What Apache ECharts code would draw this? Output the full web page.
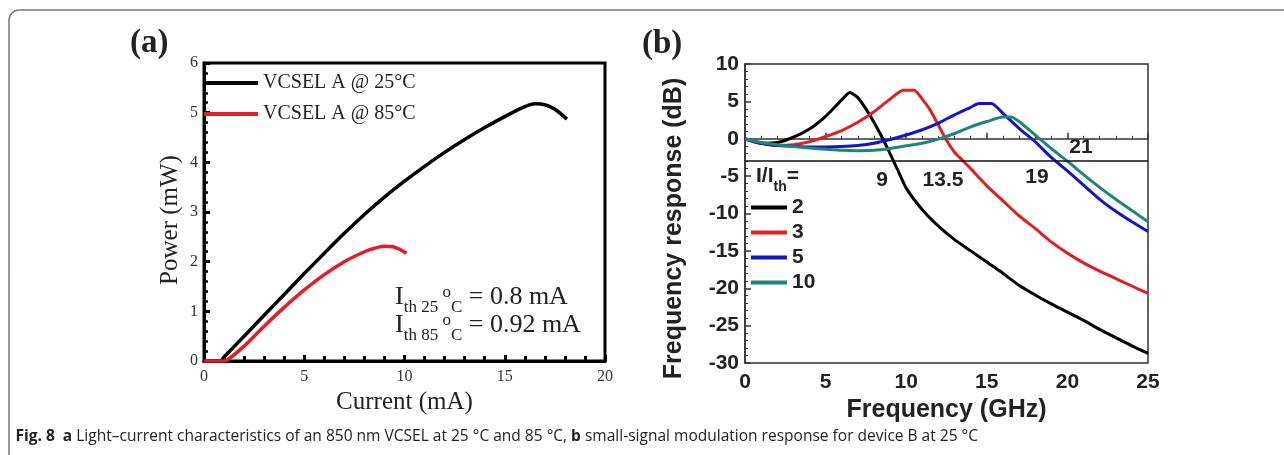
<!DOCTYPE html>
<html><head><meta charset="utf-8">
<script src="https://cdn.jsdelivr.net/npm/echarts@6/dist/echarts.min.js"></script>
<style>html,body{margin:0;padding:0;background:#fff}#c{width:1284px;height:455px}</style>
</head><body><div id="c"></div>
<script>
// ---------- Panel (a) data ----------
const currentA25 = [0,0.8,1,2,3,4,5,6,7,8,9,10,11,12,13,14,15,16,16.5,17,17.5,18.1];
const powerA25   = [0,0,0.08,0.5,0.92,1.34,1.76,2.17,2.57,2.95,3.3,3.62,3.92,4.2,4.46,4.7,4.92,5.12,5.18,5.16,5.07,4.87];
const currentA85 = [0,1.0,1.2,2,3,4,5,6,7,8,8.5,9,9.5,10.1];
const powerA85   = [0,0,0.03,0.3,0.7,1.08,1.43,1.74,2.0,2.2,2.27,2.31,2.29,2.17];
const seriesNamesA = ['VCSEL A @ 25°C','VCSEL A @ 85°C'];

// ---------- Panel (b) data ----------
const freq2  = [0,1,2,3,4,5,6,6.5,7,7.5,8,8.5,9,9.5,10,11,12,13,14,15,16,17,18,19,20,21,22,23,24,25];
const resp2  = [0,-0.6,-0.5,0.2,1.3,3.0,5.2,6.2,5.5,4.0,2.2,0.2,-2.0,-4.3,-6.6,-9.5,-11.7,-13.5,-15.0,-16.5,-18.0,-19.6,-20.9,-22.1,-23.2,-24.3,-25.5,-26.6,-27.7,-28.7];
const freq3  = [0,1,2,3,4,5,6,7,8,9,9.8,10.5,11,11.5,12,12.5,13,13.5,14,15,16,17,18,19,20,21,22,23,24,25];
const resp3  = [0,-0.6,-0.9,-0.8,-0.4,0.3,1.1,2.2,3.6,5.3,6.5,6.5,5.3,3.8,1.8,-0.2,-1.8,-2.9,-4.0,-6.3,-8.3,-10.3,-12.0,-13.8,-15.3,-16.6,-17.7,-18.7,-19.7,-20.7];
const freq5  = [0,1,2,3,4,5,6,7,8,9,10,11,12,13,14,14.5,15.3,16,17,18,19,20,21,22,23,24,25];
const resp5  = [0,-0.6,-0.9,-1.0,-1.1,-1.1,-1.05,-0.9,-0.6,-0.1,0.5,1.2,2.1,3.2,4.2,4.7,4.7,3.4,1.4,-0.4,-2.5,-4.3,-6.2,-8.1,-9.7,-11.1,-12.4];
const freq10 = [0,1,2,3,4,5,6,7,8,9,10,11,12,13,14,15,16,16.5,17,18,19,20,21,22,23,24,25];
const resp10 = [0,-0.5,-0.8,-1.05,-1.25,-1.4,-1.55,-1.6,-1.55,-1.3,-0.95,-0.6,-0.05,0.7,1.6,2.3,2.9,2.9,2.3,0.5,-1.3,-3.0,-4.8,-6.5,-8.1,-9.6,-11.1];
const seriesNamesB = ['2','3','5','10'];
const thresholdDb = -3;
const bandwidthLabels = ['9','13.5','19','21'];

const zip = (xs, ys) => xs.map((x, i) => [x, ys[i]]);
const serif = 'Liberation Serif';
const sans = 'Liberation Sans';

const chart = echarts.init(document.getElementById('c'), null, {renderer: 'canvas'});
chart.setOption({
  backgroundColor: '#fff',
  animation: false,
  grid: [
    {left: 204, top: 63, width: 401, height: 298, show: true, borderColor: '#000', borderWidth: 3},
    {left: 745, top: 64, width: 403, height: 299, show: true, borderColor: '#333', borderWidth: 1.5}
  ],
  xAxis: [
    {gridIndex: 0, type: 'value', min: 0, max: 20, interval: 5,
     name: 'Current (mA)', nameLocation: 'middle', nameGap: 22,
     nameTextStyle: {fontFamily: serif, fontSize: 25, color: '#222'},
     axisLine: {lineStyle: {color: '#000', width: 3}},
     axisTick: {inside: true, length: 6, lineStyle: {color: '#000', width: 3}},
     minorTick: {show: true, splitNumber: 5, length: 5, lineStyle: {color: '#000', width: 3}},
     splitLine: {show: false},
     axisLabel: {fontFamily: serif, fontSize: 16, color: '#333', margin: 8}},
    {gridIndex: 1, type: 'value', min: 0, max: 25, interval: 5,
     name: 'Frequency (GHz)', nameLocation: 'middle', nameGap: 29,
     nameTextStyle: {fontFamily: sans, fontWeight: 'bold', fontSize: 25, color: '#222'},
     axisLine: {lineStyle: {color: '#333', width: 1.5}},
     axisTick: {inside: true, length: 6, lineStyle: {color: '#333', width: 1.5}},
     minorTick: {show: true, splitNumber: 5, length: 3, lineStyle: {color: '#333', width: 1}},
     splitLine: {show: false},
     axisLabel: {fontFamily: sans, fontWeight: 'bold', fontSize: 21, color: '#222', margin: 9}}
  ],
  yAxis: [
    {gridIndex: 0, type: 'value', min: 0, max: 6, interval: 1,
     name: 'Power (mW)', nameLocation: 'middle', nameGap: 21,
     nameTextStyle: {fontFamily: serif, fontSize: 25, color: '#222', padding: [0, 16, 0, 0]},
     axisLine: {lineStyle: {color: '#000', width: 3}},
     axisTick: {inside: true, length: 6, lineStyle: {color: '#000', width: 3}},
     minorTick: {show: true, splitNumber: 5, length: 4, lineStyle: {color: '#000', width: 2.5}},
     splitLine: {show: false},
     axisLabel: {fontFamily: serif, fontSize: 16, color: '#333', margin: 6}},
    {gridIndex: 1, type: 'value', min: -30, max: 10, interval: 5,
     name: 'Frequency response (dB)', nameLocation: 'middle', nameGap: 58,
     nameTextStyle: {fontFamily: sans, fontWeight: 'bold', fontSize: 25, color: '#222', padding: [0, 30, 0, 0]},
     axisLine: {lineStyle: {color: '#333', width: 1.5}},
     axisTick: {inside: true, length: 6, lineStyle: {color: '#333', width: 1.5}},
     minorTick: {show: true, splitNumber: 5, length: 3, lineStyle: {color: '#333', width: 1}},
     splitLine: {show: false},
     axisLabel: {fontFamily: sans, fontWeight: 'bold', fontSize: 21, color: '#222', margin: 6}}
  ],
  legend: [
    {data: seriesNamesA, orient: 'vertical', left: 204, top: 73, itemWidth: 54, itemHeight: 4, itemGap: 11,
     icon: 'rect', textStyle: {fontFamily: serif, fontSize: 20, color: '#222'}, itemStyle: {borderWidth: 0},
     padding: 0, selectedMode: false},
    {data: seriesNamesB, orient: 'vertical', left: 751, top: 197, itemWidth: 36, itemHeight: 4, itemGap: 4,
     icon: 'rect', textStyle: {fontFamily: sans, fontWeight: 'bold', fontSize: 21, color: '#222'}, itemStyle: {borderWidth: 0},
     padding: 0, selectedMode: false}
  ],
  series: [
    {name: seriesNamesA[0], type: 'line', xAxisIndex: 0, yAxisIndex: 0, data: zip(currentA25, powerA25),
     showSymbol: false, smooth: 0.35, lineStyle: {color: '#000', width: 3.5}, itemStyle: {color: '#000'}},
    {name: seriesNamesA[1], type: 'line', xAxisIndex: 0, yAxisIndex: 0, data: zip(currentA85, powerA85),
     showSymbol: false, smooth: 0.35, lineStyle: {color: '#e41e26', width: 3.5}, itemStyle: {color: '#e41e26'}},
    {name: seriesNamesB[0], type: 'line', xAxisIndex: 1, yAxisIndex: 1, data: zip(freq2, resp2),
     showSymbol: false, smooth: 0.2, lineStyle: {color: '#000', width: 3}, itemStyle: {color: '#000'},
     markLine: {silent: true, symbol: 'none', label: {show: false}, lineStyle: {color: '#111', width: 1.5, type: 'solid'},
                data: [{yAxis: thresholdDb}]}},
    {name: seriesNamesB[1], type: 'line', xAxisIndex: 1, yAxisIndex: 1, data: zip(freq3, resp3),
     showSymbol: false, smooth: 0.2, lineStyle: {color: '#e0201e', width: 3}, itemStyle: {color: '#e0201e'}},
    {name: seriesNamesB[2], type: 'line', xAxisIndex: 1, yAxisIndex: 1, data: zip(freq5, resp5),
     showSymbol: false, smooth: 0.2, lineStyle: {color: '#1414c8', width: 3}, itemStyle: {color: '#1414c8'}},
    {name: seriesNamesB[3], type: 'line', xAxisIndex: 1, yAxisIndex: 1, data: zip(freq10, resp10),
     showSymbol: false, smooth: 0.2, lineStyle: {color: '#1f857b', width: 3}, itemStyle: {color: '#1f857b'}}
  ],
  graphic: [
    {type: 'rect', shape: {x: 9, y: 10, width: 1400, height: 600, r: 10}, style: {fill: 'none', stroke: '#7a7a7a', lineWidth: 1.5}, silent: true},
    {type: 'text', x: 130, y: 43, style: {text: '(a)', font: 'bold 33px "Liberation Serif"', fill: '#222', verticalAlign: 'middle'}},
    {type: 'text', x: 642, y: 44, style: {text: '(b)', font: 'bold 33px "Liberation Serif"', fill: '#222', verticalAlign: 'middle'}},
    {type: 'text', x: 395, y: 297, style: {
      text: '{m|I}{s|th 25 }{o|o}{s|C}{m| = 0.8 mA}', verticalAlign: 'middle', fill: '#222',
      rich: {m: {fontFamily: serif, fontSize: 26, lineHeight: 30, verticalAlign: 'middle'},
             s: {fontFamily: serif, fontSize: 17, lineHeight: 30, verticalAlign: 'bottom', padding: [0,0,-4,0]},
             o: {fontFamily: serif, fontSize: 17, lineHeight: 30, verticalAlign: 'top', padding: [2,0,0,0]}}}},
    {type: 'text', x: 395, y: 325, style: {
      text: '{m|I}{s|th 85 }{o|o}{s|C}{m| = 0.92 mA}', verticalAlign: 'middle', fill: '#222',
      rich: {m: {fontFamily: serif, fontSize: 26, lineHeight: 30, verticalAlign: 'middle'},
             s: {fontFamily: serif, fontSize: 17, lineHeight: 30, verticalAlign: 'bottom', padding: [0,0,-4,0]},
             o: {fontFamily: serif, fontSize: 17, lineHeight: 30, verticalAlign: 'top', padding: [2,0,0,0]}}}},
    {type: 'text', x: 756, y: 176, style: {
      text: '{m|I/I}{s|th}{m|=}', verticalAlign: 'middle', fill: '#222',
      rich: {m: {fontFamily: sans, fontWeight: 'bold', fontSize: 21, lineHeight: 26, verticalAlign: 'middle'},
             s: {fontFamily: sans, fontWeight: 'bold', fontSize: 14, lineHeight: 26, verticalAlign: 'bottom', padding: [0,0,-5,0]}}}},
    {type: 'text', x: 882, y: 180, style: {text: bandwidthLabels[0], font: 'bold 21px "Liberation Sans"', fill: '#222', align: 'center', verticalAlign: 'middle'}},
    {type: 'text', x: 943, y: 180, style: {text: bandwidthLabels[1], font: 'bold 21px "Liberation Sans"', fill: '#222', align: 'center', verticalAlign: 'middle'}},
    {type: 'text', x: 1037, y: 177, style: {text: bandwidthLabels[2], font: 'bold 21px "Liberation Sans"', fill: '#222', align: 'center', verticalAlign: 'middle'}},
    {type: 'text', x: 1081, y: 147, style: {text: bandwidthLabels[3], font: 'bold 21px "Liberation Sans"', fill: '#222', align: 'center', verticalAlign: 'middle'}},
    {type: 'text', x: 15, y: 436, scaleX: 0.97, originX: 15, originY: 436, style: {
      text: '{b|Fig. 8}  {b|a} Light–current characteristics of an 850 nm VCSEL at 25 °C and 85 °C, {b|b} small-signal modulation response for device B at 25 °C',
      verticalAlign: 'middle', fill: '#222',
      rich: {b: {fontFamily: 'Open Sans', fontWeight: 'bold', fontSize: 16}},
      font: '16px "Open Sans"'}}
  ]
});
</script></body></html>
